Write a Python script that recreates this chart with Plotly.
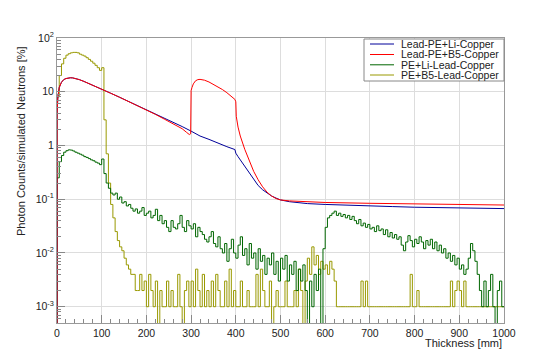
import plotly.graph_objects as go

# ---------------- data ----------------
series_names = ["Lead-PE+Li-Copper", "Lead-PE+B5-Copper", "PE+Li-Lead-Copper", "PE+B5-Lead-Copper"]
series_colors = ["#000099", "#ff0000", "#006600", "#999900"]

# smooth curves (thickness in mm, value in %)
blue_x = [0, 2, 5, 10, 15, 20, 25, 30, 35, 40, 50, 60, 70, 80, 90, 100, 120, 140, 160, 180,
          200, 220, 240, 260, 280, 300, 320, 340, 360, 380, 398, 400, 405, 410, 420, 430, 440,
          450, 460, 470, 480, 490, 500, 520, 540, 560, 600, 650, 700, 750, 800, 850, 900, 950, 1000]
blue_y = [4, 8, 12, 15, 16.8, 17.6, 18, 18.2, 18.1, 17.8, 16.8, 15.6, 14.4, 13.3, 12.2, 11.2, 9.4, 7.9, 6.6, 5.6,
          4.7, 3.9, 3.3, 2.75, 2.25, 1.85, 1.5, 1.3, 1.1, 0.95, 0.84, 0.72, 0.62, 0.54, 0.42, 0.31, 0.23,
          0.18, 0.15, 0.13, 0.115, 0.105, 0.097, 0.09, 0.086, 0.083, 0.08, 0.077, 0.075, 0.073, 0.071, 0.07, 0.069, 0.068, 0.067]

red_x = [0, 2, 5, 10, 15, 20, 25, 30, 35, 40, 50, 60, 70, 80, 90, 100, 120, 140, 160, 180,
         200, 220, 240, 260, 280, 290, 296, 299, 300, 302, 305, 310, 315, 320, 330, 340, 350, 360, 370,
         380, 390, 398, 400, 401, 405, 410, 420, 430, 440, 450, 460, 470, 480, 490, 500, 520, 560, 600,
         700, 800, 900, 1000]
red_y = [4, 8, 12, 15, 16.8, 17.6, 18, 18.2, 18.1, 17.8, 16.8, 15.6, 14.4, 13.3, 12.2, 11.2, 9.4, 7.9, 6.6, 5.5,
         4.6, 3.8, 3.1, 2.55, 2.05, 1.75, 1.6, 1.65, 10.5, 12, 14, 16, 16.8, 17, 16.4, 15.2, 13.8, 12.4, 11,
         9.6, 8.3, 7.2, 6.5, 3.5, 2.2, 1.5, 0.85, 0.52, 0.33, 0.23, 0.17, 0.135, 0.115, 0.103, 0.097, 0.093, 0.089, 0.087,
         0.084, 0.082, 0.08, 0.078]

# noisy curves: 5 mm bins (left edges 0..995)
bin_edges = list(range(0, 1000, 5))
green_y = [
    0.25, 0.5, 0.65, 0.75, 0.8, 0.83, 0.82, 0.79, 0.75, 0.72,
    0.69, 0.66, 0.62, 0.6, 0.57, 0.54, 0.52, 0.49, 0.47, 0.44,
    0.56, 0.3, 0.2, 0.16, 0.13, 0.12, 0.13, 0.1, 0.11, 0.085,
    0.09, 0.075, 0.08, 0.068, 0.06, 0.066, 0.055, 0.06, 0.07, 0.05,
    0.055, 0.06, 0.045, 0.05, 0.065, 0.04, 0.05, 0.035, 0.04, 0.03,
    0.025, 0.04, 0.03, 0.028, 0.035, 0.05, 0.03, 0.025, 0.04, 0.032,
    0.028, 0.035, 0.02, 0.03, 0.025, 0.022, 0.018, 0.016, 0.02, 0.025,
    0.015, 0.013, 0.02, 0.012, 0.01, 0.015, 0.007, 0.012, 0.018, 0.01,
    0.008, 0.014, 0.02, 0.009, 0.012, 0.006, 0.015, 0.008, 0.01, 0.005,
    0.012, 0.007, 0.009, 0.004, 0.008, 0.006, 0.01, 0.004, 0.007, 0.003,
    0.008, 0.005, 0.009, 0.003, 0.006, 0.004, 0.007, 0.002, 0.005, 0.003,
    0.006, 0.002, 0, 0.003, 0.001, 0.004, 0.002, 0.005, 0, 0.012,
    0.03, 0.045, 0.05, 0.055, 0.06, 0.05, 0.055, 0.048, 0.052, 0.045,
    0.05, 0.042, 0.048, 0.04, 0.035, 0.042, 0.032, 0.036, 0.03, 0.034,
    0.028, 0.03, 0.025, 0.032, 0.026, 0.028, 0.022, 0.027, 0.02, 0.024,
    0.019, 0.022, 0.018, 0.02, 0.014, 0.011, 0.016, 0.021, 0.017, 0.013,
    0.018, 0.015, 0.02, 0.016, 0.012, 0.017, 0.014, 0.018, 0.012, 0.016,
    0.011, 0.014, 0.01, 0.012, 0.008, 0.01, 0.007, 0.009, 0.006, 0.008,
    0.005, 0.006, 0.004, 0.005, 0.008, 0.015, 0.011, 0.007, 0.004, 0.002,
    0.001, 0.003, 0.001, 0.002, 0.004, 0.001, 0, 0.002, 0.003, 0.001,
]
olive_y = [
    8, 20, 33, 42, 48, 51, 53, 54, 54, 53,
    50, 48, 46, 43, 40, 37, 34, 31, 28, 25,
    28, 3, 0.7, 0.2, 0.08, 0.045, 0.025, 0.017, 0.013, 0.011,
    0.008, 0.006, 0.005, 0.004, 0.004, 0.002, 0.002, 0.004, 0.002, 0.003,
    0.001, 0.004, 0.002, 0.001, 0.003, 0, 0.002, 0.001, 0.001, 0.003,
    0.001, 0.002, 0.001, 0.001, 0.004, 0.001, 0, 0.002, 0.003, 0.001,
    0.003, 0.001, 0.005, 0.002, 0.001, 0.004, 0.001, 0.002, 0.001, 0.003,
    0.001, 0.004, 0.002, 0.001, 0.001, 0.003, 0.001, 0.005, 0.001, 0.002,
    0.001, 0.001, 0.003, 0.001, 0.001, 0.002, 0.001, 0.001, 0.001, 0.004,
    0.001, 0.005, 0.002, 0.001, 0.001, 0.003, 0, 0.001, 0.002, 0.001,
    0.001, 0.001, 0.003, 0.001, 0.001, 0.001, 0.002, 0.001, 0.005, 0.002,
    0, 0.003, 0.008, 0.004, 0.013, 0.006, 0.009, 0.004, 0.007, 0.005,
    0.006, 0.004, 0.007, 0.005, 0.003, 0.001, 0.001, 0.001, 0.001, 0.001,
    0.001, 0.001, 0.001, 0.001, 0.001, 0.001, 0.003, 0.001, 0.003, 0.001,
    0.001, 0.001, 0.001, 0.001, 0.001, 0.001, 0.001, 0.001, 0.001, 0.001,
    0.001, 0.001, 0.001, 0.001, 0.001, 0.001, 0.001, 0.001, 0.004, 0.001,
    0.001, 0.002, 0.001, 0.001, 0.001, 0.001, 0.001, 0.001, 0.001, 0.001,
    0.001, 0.001, 0.001, 0.001, 0.001, 0.001, 0.003, 0.001, 0.002, 0.003,
    0.002, 0.001, 0.003, 0.001, 0.001, 0.001, 0.001, 0.001, 0.001, 0.001,
    0.001, 0.001, 0.001, 0.001, 0.001, 0.001, 0.001, 0.001, 0.001, 0.001,
]

x_ticks = [0, 100, 200, 300, 400, 500, 600, 700, 800, 900, 1000]
y_ticks = [1e-3, 1e-2, 1e-1, 1, 10, 100]
y_ticktext = ["10<sup>-3</sup>", "10<sup>-2</sup>", "10<sup>-1</sup>", "1", "10", "10<sup>2</sup>"]

# ---------------- figure ----------------
W, H = 551, 358
L, R, T, B = 57, 47, 38, 35
FLOOR = 1e-6  # empty bins drop below the axis, as on a log histogram

def floor(vals):
    return [v if v > 0 else FLOOR for v in vals]

fig = go.Figure()

def add_smooth(xs, ys, color, name):
    fig.add_trace(go.Scatter(x=[xs[0]] + xs, y=[FLOOR] + floor(ys), mode="lines", name=name,
                             line=dict(color=color, width=1), showlegend=False))

def add_hist(edges, ys, color, name):
    xs = [edges[0]] + edges + [1000]
    yy = [FLOOR] + floor(ys) + [floor(ys)[-1]]
    fig.add_trace(go.Scatter(x=xs, y=yy, mode="lines", name=name,
                             line=dict(color=color, width=1, shape="hv"), showlegend=False))

add_hist(bin_edges, olive_y, series_colors[3], series_names[3])
add_hist(bin_edges, green_y, series_colors[2], series_names[2])
add_smooth(blue_x, blue_y, series_colors[0], series_names[0])
add_smooth(red_x, red_y, series_colors[1], series_names[1])

font_fam = "Liberation Sans, Arial, sans-serif"
minor_y = [k * 10.0 ** e for e in range(-4, 2) for k in range(2, 10)]

fig.update_layout(
    width=W, height=H,
    margin=dict(l=L, r=R, t=T, b=B),
    paper_bgcolor="white", plot_bgcolor="white",
    font=dict(family=font_fam, size=10.5, color="#222222"),
    xaxis=dict(range=[0, 1000], tickvals=x_ticks, ticks="inside", ticklen=8, tickcolor="#888888",
               showgrid=True, gridcolor="#dddddd", gridwidth=1,
               showline=True, linecolor="#999999", linewidth=1, mirror=True, zeroline=False,
               minor=dict(dtick=20, ticks="inside", ticklen=4, tickcolor="#888888", showgrid=False),
               tickfont=dict(size=10.5, color="#222222")),
    yaxis=dict(type="log", range=[-3.303, 2.0], tickvals=y_ticks, ticktext=y_ticktext,
               ticks="inside", ticklen=8, tickcolor="#888888",
               showgrid=True, gridcolor="#dddddd", gridwidth=1,
               showline=True, linecolor="#999999", linewidth=1, mirror=True, zeroline=False,
               minor=dict(tickvals=minor_y, ticks="inside", ticklen=4, tickcolor="#888888", showgrid=False),
               tickfont=dict(size=10.5, color="#222222")),
)

pw = W - L - R
ph = H - T - B

def px(xp):
    return (xp - L) / pw

def py(yp):
    return (H - B - yp) / ph

annotations = [
    dict(text="Thickness [mm]", xref="paper", yref="paper", x=px(504), y=py(343),
         xanchor="right", yanchor="middle", showarrow=False, font=dict(size=11, family=font_fam, color="#222222")),
    dict(text="Photon Counts/simulated Neutrons [%]", xref="paper", yref="paper", x=px(21), y=py(44),
         xanchor="center", yanchor="top", textangle=-90, showarrow=False,
         font=dict(size=11, family=font_fam, color="#222222")),
]
shapes = [dict(type="rect", xref="paper", yref="paper", x0=px(364), x1=px(504), y0=py(81), y1=py(39),
               fillcolor="white", line=dict(color="#888888", width=1), layer="above")]
row_y = [44, 54.5, 64.8, 75]
for name, color, yy in zip(series_names, series_colors, row_y):
    shapes.append(dict(type="line", xref="paper", yref="paper", x0=px(370), x1=px(394), y0=py(yy), y1=py(yy),
                       line=dict(color=color, width=1), layer="above"))
    annotations.append(dict(text=name, xref="paper", yref="paper", x=px(399), y=py(yy),
                            xanchor="left", yanchor="middle", showarrow=False,
                            font=dict(size=10.5, family=font_fam, color="#222222")))

fig.update_layout(annotations=annotations, shapes=shapes)
fig.write_html("out.html")
